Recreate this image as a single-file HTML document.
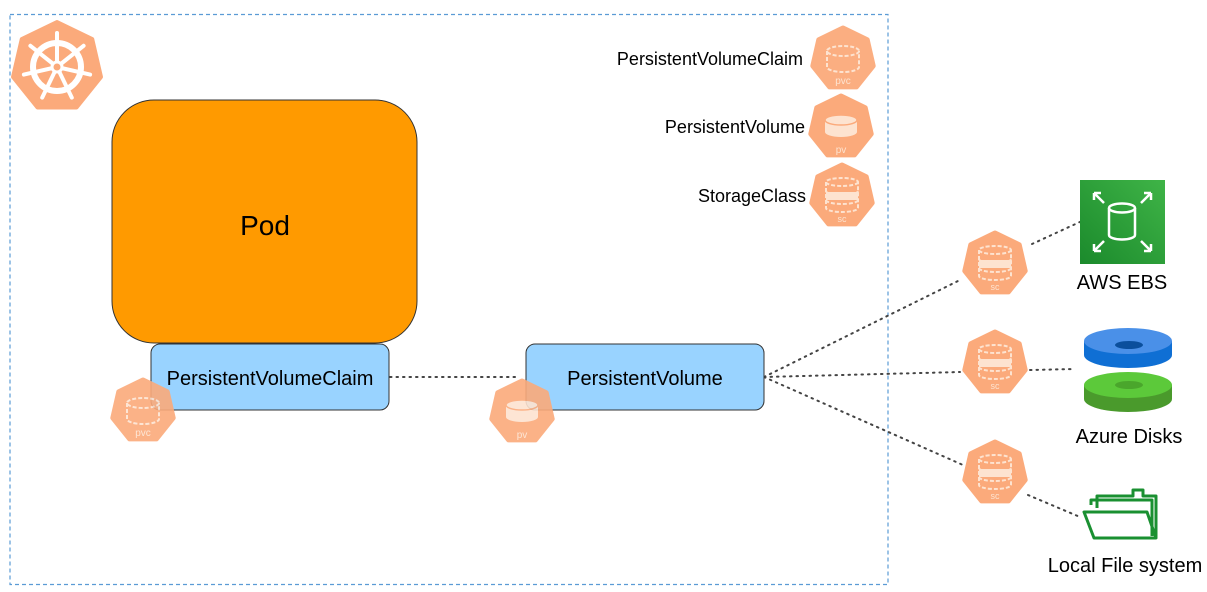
<!DOCTYPE html>
<html><head><meta charset="utf-8"><style>
html,body{margin:0;padding:0;background:#fff;}
svg{display:block;font-family:"Liberation Sans",Arial,sans-serif;}
</style></head><body>
<svg width="1207" height="592" viewBox="0 0 1207 592" xmlns="http://www.w3.org/2000/svg">
<defs>
<symbol id="hep" viewBox="-34 -34 68 68" overflow="visible">
<polygon points="0,-31 24.2,-19.3 30.2,6.9 13.4,27.9 -13.4,27.9 -30.2,6.9 -24.2,-19.3" fill="#fbaa7b" stroke="#fbaa7b" stroke-width="5" stroke-linejoin="round"/>
</symbol>
<linearGradient id="ebs" x1="0" y1="1" x2="1" y2="0"><stop offset="0" stop-color="#1b8a2c"/><stop offset="1" stop-color="#3fb447"/></linearGradient>
</defs>
<rect x="10" y="14.5" width="878" height="570" fill="none" stroke="#5a9bd5" stroke-width="1.2" stroke-dasharray="4 3"/>

<!-- kube logo -->
<g transform="translate(57,67)">
<polygon points="0,-45 35.2,-28 44,10 19.5,40.5 -19.5,40.5 -44,10 -35.2,-28" fill="#fbaa7b" stroke="#fbaa7b" stroke-width="4" stroke-linejoin="round"/>
<circle r="24" fill="none" stroke="#fff" stroke-width="6"/>
<g stroke="#fff" stroke-width="4" stroke-linecap="round">
<line x1="0" y1="0" x2="0" y2="-34"/><line x1="0" y1="0" x2="26.6" y2="-21.2"/><line x1="0" y1="0" x2="33.1" y2="7.6"/><line x1="0" y1="0" x2="14.8" y2="30.6"/><line x1="0" y1="0" x2="-14.8" y2="30.6"/><line x1="0" y1="0" x2="-33.1" y2="7.6"/><line x1="0" y1="0" x2="-26.6" y2="-21.2"/>
</g>
<circle r="5" fill="#fbaa7b" stroke="#fff" stroke-width="3"/>
</g>

<!-- Pod -->
<rect x="112" y="100" width="305" height="243" rx="42" fill="#ff9a00" stroke="#333" stroke-width="1"/>
<text x="265" y="235" font-size="28" text-anchor="middle" fill="#000">Pod</text>

<!-- dotted lines -->
<g stroke="#444" stroke-width="2" stroke-dasharray="1.5 5" fill="none" stroke-linecap="round">
<line x1="390" y1="377" x2="520" y2="377"/>
<line x1="764" y1="377" x2="960" y2="280"/>
<line x1="764" y1="377" x2="960" y2="372"/>
<line x1="764" y1="377" x2="963" y2="465"/>
<line x1="1032" y1="244" x2="1082" y2="221"/>
<line x1="1030" y1="370" x2="1075" y2="369"/>
<line x1="1028" y1="495" x2="1080" y2="517"/>
</g>

<!-- boxes -->
<rect x="151" y="344" width="238" height="66" rx="9" fill="#99d3ff" stroke="#333" stroke-width="1"/>
<text x="270" y="385" font-size="20" text-anchor="middle">PersistentVolumeClaim</text>
<rect x="526" y="344" width="238" height="66" rx="9" fill="#99d3ff" stroke="#333" stroke-width="1"/>
<text x="645" y="385" font-size="20" text-anchor="middle">PersistentVolume</text>

<!-- icons -->
<g id="icons" fill="none" stroke="#fde3d0" stroke-width="2">
<!-- pvc template drawn per instance -->
</g>

<g font-size="10" fill="#fde3d0" text-anchor="middle">
<!-- pvc top -->
<g transform="translate(843,59)"><use href="#hep" x="-34" y="-34" width="68" height="68" opacity=".95"/>
<g fill="none" stroke="#fde3d0" stroke-width="2" stroke-dasharray="4 2"><ellipse cx="0" cy="-8" rx="16" ry="5"/><path d="M-16,-8 V8 A16,5 0 0 0 16,8 V-8"/></g><text y="25">pvc</text></g>
<!-- pv top -->
<g transform="translate(841,127)"><use href="#hep" x="-34" y="-34" width="68" height="68"/>
<ellipse cx="0" cy="-7" rx="16" ry="5" fill="#fde3d0"/><path d="M-16,-7 V5 A16,5 0 0 0 16,5 V-7 A16,5 0 0 1 -16,-7" fill="#fde3d0"/><ellipse cx="0" cy="-7" rx="16" ry="5" fill="none" stroke="#fbaa7b" stroke-width="1.5"/><text y="26">pv</text></g>
<!-- sc icons -->
<g id="sc1" transform="translate(842,196)"><use href="#hep" x="-34" y="-34" width="68" height="68"/>
<g fill="none" stroke="#fde3d0" stroke-width="2" stroke-dasharray="4 2"><ellipse cx="0" cy="-14" rx="16" ry="4"/><path d="M-16,-14 V12 A16,4 0 0 0 16,12 V-14"/><path d="M-16,-5 A16,4 0 0 0 16,-5 M-16,4 A16,4 0 0 0 16,4"/></g><rect x="-16" y="-4" width="32" height="8" fill="#fde3d0"/><text y="26" font-size="9">sc</text></g>
<g transform="translate(995,264)"><use href="#hep" x="-34" y="-34" width="68" height="68"/>
<g fill="none" stroke="#fde3d0" stroke-width="2" stroke-dasharray="4 2"><ellipse cx="0" cy="-14" rx="16" ry="4"/><path d="M-16,-14 V12 A16,4 0 0 0 16,12 V-14"/><path d="M-16,-5 A16,4 0 0 0 16,-5 M-16,4 A16,4 0 0 0 16,4"/></g><rect x="-16" y="-4" width="32" height="8" fill="#fde3d0"/><text y="26" font-size="9">sc</text></g>
<g transform="translate(995,363)"><use href="#hep" x="-34" y="-34" width="68" height="68"/>
<g fill="none" stroke="#fde3d0" stroke-width="2" stroke-dasharray="4 2"><ellipse cx="0" cy="-14" rx="16" ry="4"/><path d="M-16,-14 V12 A16,4 0 0 0 16,12 V-14"/><path d="M-16,-5 A16,4 0 0 0 16,-5 M-16,4 A16,4 0 0 0 16,4"/></g><rect x="-16" y="-4" width="32" height="8" fill="#fde3d0"/><text y="26" font-size="9">sc</text></g>
<g transform="translate(995,473)"><use href="#hep" x="-34" y="-34" width="68" height="68"/>
<g fill="none" stroke="#fde3d0" stroke-width="2" stroke-dasharray="4 2"><ellipse cx="0" cy="-14" rx="16" ry="4"/><path d="M-16,-14 V12 A16,4 0 0 0 16,12 V-14"/><path d="M-16,-5 A16,4 0 0 0 16,-5 M-16,4 A16,4 0 0 0 16,4"/></g><rect x="-16" y="-4" width="32" height="8" fill="#fde3d0"/><text y="26" font-size="9">sc</text></g>
<!-- pvc bottom -->
<g transform="translate(143,411)" opacity=".9"><use href="#hep" x="-34" y="-34" width="68" height="68"/>
<g fill="none" stroke="#fde3d0" stroke-width="2" stroke-dasharray="4 2"><ellipse cx="0" cy="-8" rx="16" ry="5"/><path d="M-16,-8 V8 A16,5 0 0 0 16,8 V-8"/></g><text y="25">pvc</text></g>
<!-- pv bottom -->
<g transform="translate(522,412)" opacity=".9"><use href="#hep" x="-34" y="-34" width="68" height="68"/>
<path d="M-16,-7 V5 A16,5 0 0 0 16,5 V-7 A16,5 0 0 1 -16,-7" fill="#fde3d0"/><ellipse cx="0" cy="-7" rx="16" ry="5" fill="#fde3d0" stroke="#fbaa7b" stroke-width="1.5"/><text y="26">pv</text></g>
</g>

<!-- top labels -->
<g font-size="18" text-anchor="end" fill="#000">
<text x="803" y="65">PersistentVolumeClaim</text>
<text x="805" y="133">PersistentVolume</text>
<text x="806" y="202">StorageClass</text>
</g>

<!-- AWS EBS -->
<rect x="1080" y="180" width="85" height="84" fill="url(#ebs)"/>
<g fill="none" stroke="#fff" stroke-width="2.5">
<ellipse cx="1122" cy="208" rx="13" ry="4.5"/><path d="M1109,208 V235 A13,4.5 0 0 0 1135,235 V208"/>
<path d="M1094,193 L1104,203 M1094,193 h7 M1094,193 v7"/>
<path d="M1151,193 L1141,203 M1151,193 h-7 M1151,193 v7"/>
<path d="M1094,251 L1104,241 M1094,251 h7 M1094,251 v-7"/>
<path d="M1151,251 L1141,241 M1151,251 h-7 M1151,251 v-7"/>
</g>
<text x="1122" y="289" font-size="20" text-anchor="middle">AWS EBS</text>

<!-- Azure disks -->
<path d="M1084,385 v14 a44,13 0 0 0 88,0 v-14 z" fill="#4a9a2c"/>
<ellipse cx="1128" cy="385" rx="44" ry="13" fill="#5cc93a"/>
<ellipse cx="1129" cy="385" rx="14" ry="4" fill="#4aa62c"/>
<path d="M1084,341 v14 a44,13 0 0 0 88,0 v-14 z" fill="#0f6fd4"/>
<ellipse cx="1128" cy="341" rx="44" ry="13" fill="#4a90e8"/>
<ellipse cx="1129" cy="345" rx="14" ry="4" fill="#0b4f9c"/>
<text x="1129" y="443" font-size="20" text-anchor="middle">Azure Disks</text>

<!-- Folder -->
<g fill="none" stroke="#1a9031" stroke-width="3" stroke-linejoin="round">
<path d="M1097,508 V496 H1133 V490 H1143 V496 H1156 V538"/>
<path d="M1091,505 V500 H1152 V536"/>
<path d="M1084,512 H1147 L1156,538 H1094 Z"/>
</g>
<text x="1125" y="572" font-size="20" text-anchor="middle">Local File system</text>
</svg>
</body></html>
